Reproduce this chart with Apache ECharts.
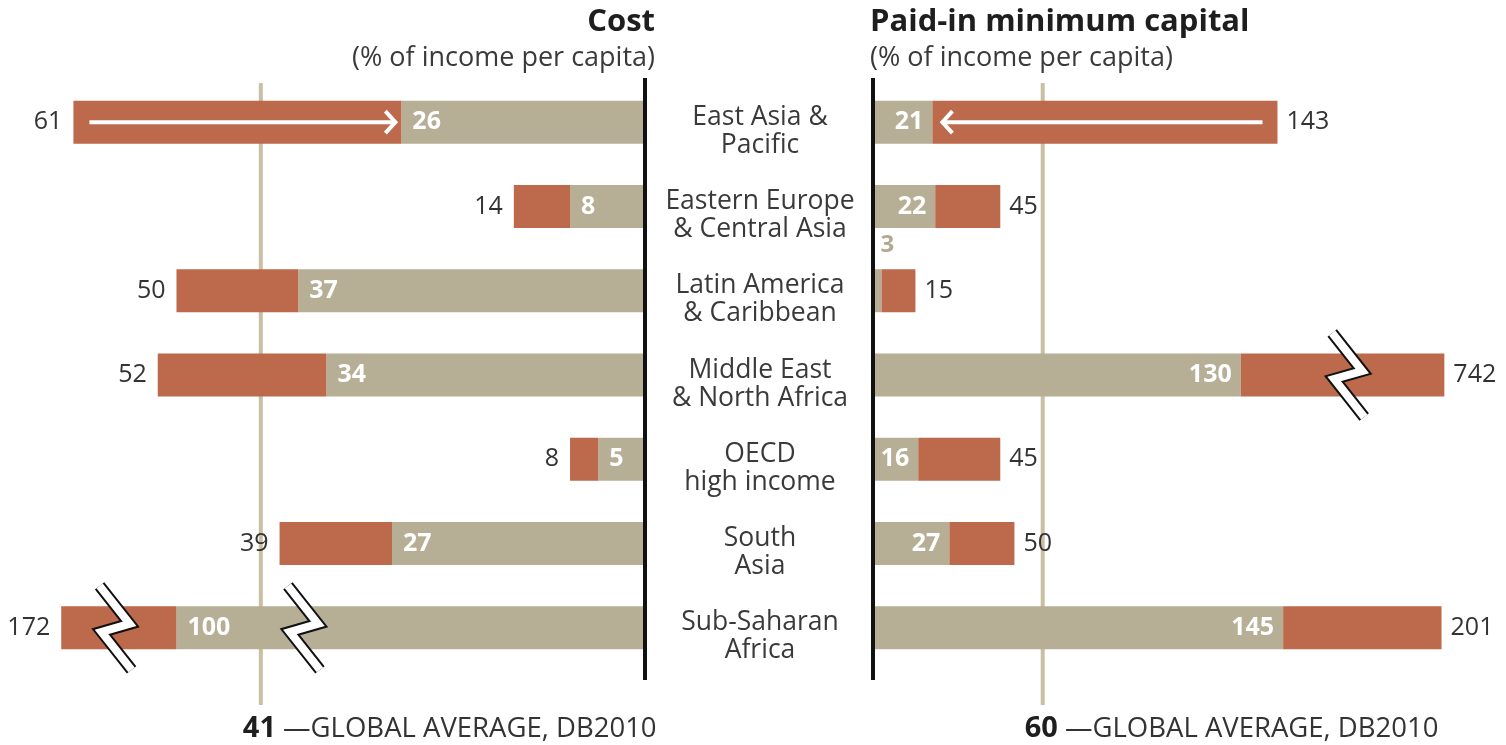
<!DOCTYPE html>
<html><head><meta charset="utf-8">
<script src="https://cdn.jsdelivr.net/npm/echarts@6/dist/echarts.min.js"></script>
<style>html,body{margin:0;padding:0;background:#fff}#c{width:1506px;height:745px}</style>
</head><body><div id="c"></div>
<script>
// ---- data ----
const regions = ['East Asia &\nPacific', 'Eastern Europe\n& Central Asia', 'Latin America\n& Caribbean',
  'Middle East\n& North Africa', 'OECD\nhigh income', 'South\nAsia', 'Sub-Saharan\nAfrica'];
const costDB2005 = [61, 14, 50, 52, 8, 39, 172];
const costDB2010 = [26, 8, 37, 34, 5, 27, 100];
const capitalDB2005 = [143, 45, 15, 742, 45, 50, 201];
const capitalDB2010 = [21, 22, 3, 130, 16, 27, 145];
const globalAvgCost = 41;
const globalAvgCapital = 60;
// broken (too long) bars: the length they are drawn with on the axis, and where the break marks sit
const costBreak = { index: 6, shownAfter: 50, shownBefore: 62.3, marks: [36.4, 56.5] };
const capitalBreak = { index: 3, shownAfter: 130, shownBefore: 202, marks: [168] };

// ---- styles ----
const ORANGE = '#bd694c', TAN = '#b7ae96', AVG = '#c9bfa2', TXT = '#333333';
const FONT = '"Open Sans", "Noto Sans", sans-serif';

const costAfterShown = costDB2010.map((v, i) => i === costBreak.index ? costBreak.shownAfter : v);
const costBeforeShown = costDB2005.map((v, i) => i === costBreak.index ? costBreak.shownBefore : v);
const capAfterShown = capitalDB2010.map((v, i) => i === capitalBreak.index ? capitalBreak.shownAfter : v);
const capBeforeShown = capitalDB2005.map((v, i) => i === capitalBreak.index ? capitalBreak.shownBefore : v);

const chart = echarts.init(document.getElementById('c'));
const inLbl = { show: true, color: '#fff', fontWeight: 'bold', fontSize: 25, fontFamily: FONT };
const outLbl = { show: true, color: TXT, fontSize: 25, fontFamily: FONT };

chart.setOption({
  animation: false,
  grid: [
    { left: 20, width: 625, top: 80, height: 590 },
    { left: 873, width: 594, top: 80, height: 590 }
  ],
  xAxis: [
    { gridIndex: 0, type: 'value', min: 0, max: 66.7, inverse: true, show: false },
    { gridIndex: 1, type: 'value', min: 0, max: 210, show: false }
  ],
  yAxis: [
    { gridIndex: 0, type: 'category', data: regions, inverse: true, show: false },
    { gridIndex: 1, type: 'category', data: regions, inverse: true, show: false }
  ],
  series: [
    { type: 'bar', xAxisIndex: 0, yAxisIndex: 0, stack: 'cost', barWidth: 43,
      itemStyle: { color: TAN }, data: costAfterShown,
      label: Object.assign({}, inLbl, { position: 'insideLeft', distance: 11,
        formatter: p => costDB2010[p.dataIndex] }) },
    { type: 'bar', xAxisIndex: 0, yAxisIndex: 0, stack: 'cost', barWidth: 43,
      itemStyle: { color: ORANGE }, data: costBeforeShown.map((v, i) => +(v - costAfterShown[i]).toFixed(2)),
      label: Object.assign({}, outLbl, { position: 'left', distance: 11,
        formatter: p => costDB2005[p.dataIndex] }) },
    { type: 'bar', xAxisIndex: 1, yAxisIndex: 1, stack: 'cap', barWidth: 43,
      itemStyle: { color: TAN },
      data: capAfterShown.map((v, i) => i === 2 ? { value: v, label: { position: 'top', color: '#b3a98e',
        fontSize: 24, distance: 12, offset: [10, 0] } } : v),
      label: Object.assign({}, inLbl, { position: 'insideRight', distance: 9,
        formatter: p => capitalDB2010[p.dataIndex] }) },
    { type: 'bar', xAxisIndex: 1, yAxisIndex: 1, stack: 'cap', barWidth: 43,
      itemStyle: { color: ORANGE }, data: capBeforeShown.map((v, i) => +(v - capAfterShown[i]).toFixed(2)),
      label: Object.assign({}, outLbl, { position: 'right', distance: 9,
        formatter: p => capitalDB2005[p.dataIndex] }) }
  ]
});

// ---- overlays placed through the axes ----
const L = (x, y) => chart.convertToPixel({ gridIndex: 0 }, [x, y]);
const R = (x, y) => chart.convertToPixel({ gridIndex: 1 }, [x, y]);
const g = [];
function line(x1, y1, x2, y2, color, w, z) {
  g.push({ type: 'line', z: z, shape: { x1, y1, x2, y2 }, style: { stroke: color, lineWidth: w } });
}
function text(x, y, t, font, align, color) {
  g.push({ type: 'text', z: 20, style: { x, y, text: t, font, textAlign: align, textVerticalAlign: 'middle', fill: color || TXT } });
}
// global average lines (behind bars)
const avgL = L(globalAvgCost, 0)[0], avgR = R(globalAvgCapital, 0)[0];
line(avgL, 83, avgL, 705, AVG, 4, 1);
line(avgR, 83, avgR, 705, AVG, 4, 1);
// axis lines
const axL = L(0, 0)[0], axR = R(0, 0)[0];
line(axL, 78, axL, 680, '#111', 4, 10);
line(axR, 78, axR, 680, '#111', 4, 10);
// category names between the panels
regions.forEach((r, i) => {
  const y = R(0, i)[1] + 9;
  g.push({ type: 'text', z: 20, style: { x: (axL + axR) / 2 + 1, y, text: r, font: '26.5px ' + FONT,
    lineHeight: 28, textAlign: 'center', textVerticalAlign: 'middle', fill: '#3a3a3a' } });
});
// arrows on East Asia & Pacific
(function () {
  const y = L(0, 0)[1];
  const tail = L(costDB2005[0], 0)[0] + 16, tip = L(costDB2010[0], 0)[0] - 6;
  g.push({ type: 'polyline', z: 12, shape: { points: [[tail, y], [tip, y]] }, style: { stroke: '#fff', lineWidth: 4, fill: null } });
  g.push({ type: 'polyline', z: 12, shape: { points: [[tip - 10, y - 11], [tip, y], [tip - 10, y + 11]] }, style: { stroke: '#fff', lineWidth: 4, fill: null, lineJoin: 'miter' } });
  const tail2 = R(capitalDB2005[0], 0)[0] - 15, tip2 = R(capitalDB2010[0], 0)[0] + 10;
  g.push({ type: 'polyline', z: 12, shape: { points: [[tail2, y], [tip2, y]] }, style: { stroke: '#fff', lineWidth: 4, fill: null } });
  g.push({ type: 'polyline', z: 12, shape: { points: [[tip2 + 10, y - 11], [tip2, y], [tip2 + 10, y + 11]] }, style: { stroke: '#fff', lineWidth: 4, fill: null, lineJoin: 'miter' } });
})();
// break marks
function zig(cx, cy) {
  const pts = [[-16, -42], [14, -4], [-14, 4], [16, 42]].map(p => [cx + p[0], cy + p[1]]);
  g.push({ type: 'polyline', z: 14, shape: { points: pts }, style: { stroke: '#111', lineWidth: 12, fill: null, lineJoin: 'miter', lineCap: 'butt' } });
  g.push({ type: 'polyline', z: 15, shape: { points: pts }, style: { stroke: '#fff', lineWidth: 8, fill: null, lineJoin: 'miter', lineCap: 'butt' } });
}
costBreak.marks.forEach(m => { const p = L(m, costBreak.index); zig(p[0], p[1]); });
capitalBreak.marks.forEach(m => { const p = R(m, capitalBreak.index); zig(p[0], p[1]); });
// titles
text(axL + 10, 22, 'Cost', 'bold 31px ' + FONT, 'right', '#1e1e1e');
text(axL + 10, 58, '(% of income per capita)', '27px ' + FONT, 'right', '#3a3a3a');
text(axR - 3, 22, 'Paid-in minimum capital', 'bold 31px ' + FONT, 'left', '#1e1e1e');
text(axR - 3, 58, '(% of income per capita)', '27px ' + FONT, 'left', '#3a3a3a');
// global average captions
[[avgL, globalAvgCost], [avgR, globalAvgCapital]].forEach(([x, v]) => {
  g.push({ type: 'text', z: 20, style: { x: x - 18, y: 729, text: '{b|' + v + '} \u2014GLOBAL AVERAGE, DB2010',
    font: '27.5px ' + FONT, fill: TXT, textAlign: 'left', textVerticalAlign: 'middle',
    rich: { b: { fontWeight: 'bold', fontSize: 29, fontFamily: FONT, fill: '#1e1e1e' } } } });
});
chart.setOption({ graphic: g });
</script></body></html>
